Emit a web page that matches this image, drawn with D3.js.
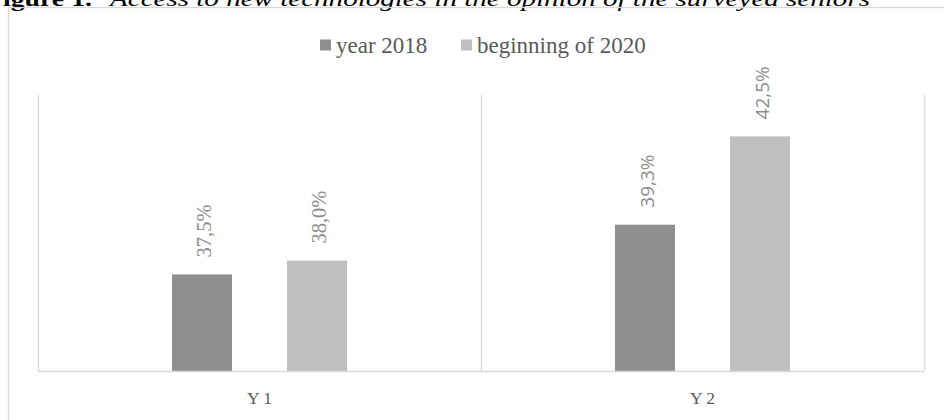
<!DOCTYPE html>
<html><head><meta charset="utf-8">
<script src="https://cdn.jsdelivr.net/npm/d3@7"></script>
<style>html,body{margin:0;padding:0;background:#fff;overflow:hidden}</style>
</head><body>
<svg id="chart" width="944" height="420"></svg>
<script>
const categories = ["Y 1", "Y 2"];
const seriesNames = ["year 2018", "beginning of 2020"];
const year2018 = [37.5, 39.3];
const beginning2020 = [38.0, 42.5];
const valueLabels2018 = ["37,5%", "39,3%"];
const valueLabels2020 = ["38,0%", "42,5%"];
const captionBold = "Figure 1.";
const captionItalic = "Access to new technologies in the opinion of the surveyed seniors";

const colors = ["#8f8f8f", "#bfbfbf"];
const labelFonts = ["Liberation Serif, serif", "Open Sans, Noto Sans, sans-serif"];
const labelSizes = [20.5, 19];

const svg = d3.select("#chart");
const serif = "Liberation Serif, serif";

// caption (cut at top, as in the reference)
svg.append("text").attr("x", -14).attr("y", 6)
  .style("font-family", serif).attr("font-weight", "bold").attr("font-size", 22)
  .attr("textLength", 106).attr("lengthAdjust", "spacingAndGlyphs")
  .attr("fill", "#000").text(captionBold);
svg.append("text").attr("x", 110).attr("y", 6)
  .style("font-family", serif).attr("font-style", "italic").attr("font-size", 22)
  .attr("textLength", 760).attr("lengthAdjust", "spacingAndGlyphs")
  .attr("fill", "#000").text(captionItalic);

// outer chart border
svg.append("rect").attr("x", 8.5).attr("y", 7.5).attr("width", 1000).attr("height", 600)
  .attr("fill", "none").attr("stroke", "#d9d9d9").attr("stroke-width", 1.3);

const plot = {left: 38, right: 924, top: 95, bottom: 371};

const x0 = d3.scaleBand().domain(categories).range([plot.left, plot.right]).padding(0);
const half = 87.5;
const x1 = d3.scaleBand().domain(seriesNames)
  .range([x0.bandwidth() / 2 - half, x0.bandwidth() / 2 + half])
  .paddingInner(55 / 115).paddingOuter(0);
const y = d3.scaleLinear().domain([34, 44]).range([plot.bottom, plot.top]);

// category separators (vertical gridlines)
const seps = [plot.left].concat(categories.map(c => x0(c) + x0.bandwidth()));
svg.append("g").selectAll("line").data(seps).join("line")
  .attr("x1", d => Math.round(d) + 0.5).attr("x2", d => Math.round(d) + 0.5)
  .attr("y1", plot.top).attr("y2", plot.bottom)
  .attr("stroke", "#d9d9d9").attr("stroke-width", 1.3);

// bars
const seriesData = [year2018, beginning2020];
const seriesLabels = [valueLabels2018, valueLabels2020];
const g = svg.append("g");
categories.forEach((cat, ci) => {
  seriesNames.forEach((s, si) => {
    const v = seriesData[si][ci];
    const bx = x0(cat) + x1(s);
    g.append("rect").attr("x", bx).attr("y", y(v))
      .attr("width", x1.bandwidth()).attr("height", y.range()[0] - y(v))
      .attr("fill", colors[si]);
  });
});

// value labels (font differs per category as in reference)
categories.forEach((cat, ci) => {
  seriesNames.forEach((s, si) => {
    const v = seriesData[si][ci];
    const cx = x0(cat) + x1(s) + x1.bandwidth() / 2;
    const lx = cx + (ci === 0 ? 9 : 8.5);
    const ly = y(v) - 17;
    g.append("text").attr("transform", `translate(${lx},${ly}) rotate(-90)`)
      .style("font-family", labelFonts[ci]).style("font-size", labelSizes[ci] + "px")
      .attr("fill", "#8c8c8c").attr("text-anchor", "start")
      .text(seriesLabels[si][ci]);
  });
});

// baseline axis
const xAxis = d3.axisBottom(x0).tickSize(0).tickPadding(0);
const ax = svg.append("g").attr("transform", `translate(0,${plot.bottom})`).call(xAxis);
ax.select(".domain").attr("stroke", "#d9d9d9").attr("stroke-width", 1.3)
  .attr("d", `M${plot.left},0.5H${plot.right}`);
ax.selectAll(".tick text").attr("y", 33).attr("dy", null)
  .style("font-family", serif).style("font-size", "17.5px").attr("fill", "#595959");

// legend
const legendX = [320, 461];
const lg = svg.append("g");
seriesNames.forEach((s, i) => {
  lg.append("rect").attr("x", legendX[i]).attr("y", 39.5).attr("width", 11).attr("height", 11)
    .attr("fill", colors[i]);
  lg.append("text").attr("x", legendX[i] + 16).attr("y", 52.5)
    .style("font-family", serif).style("font-size", "23px").attr("fill", "#595959").text(s);
});
</script>
</body></html>
